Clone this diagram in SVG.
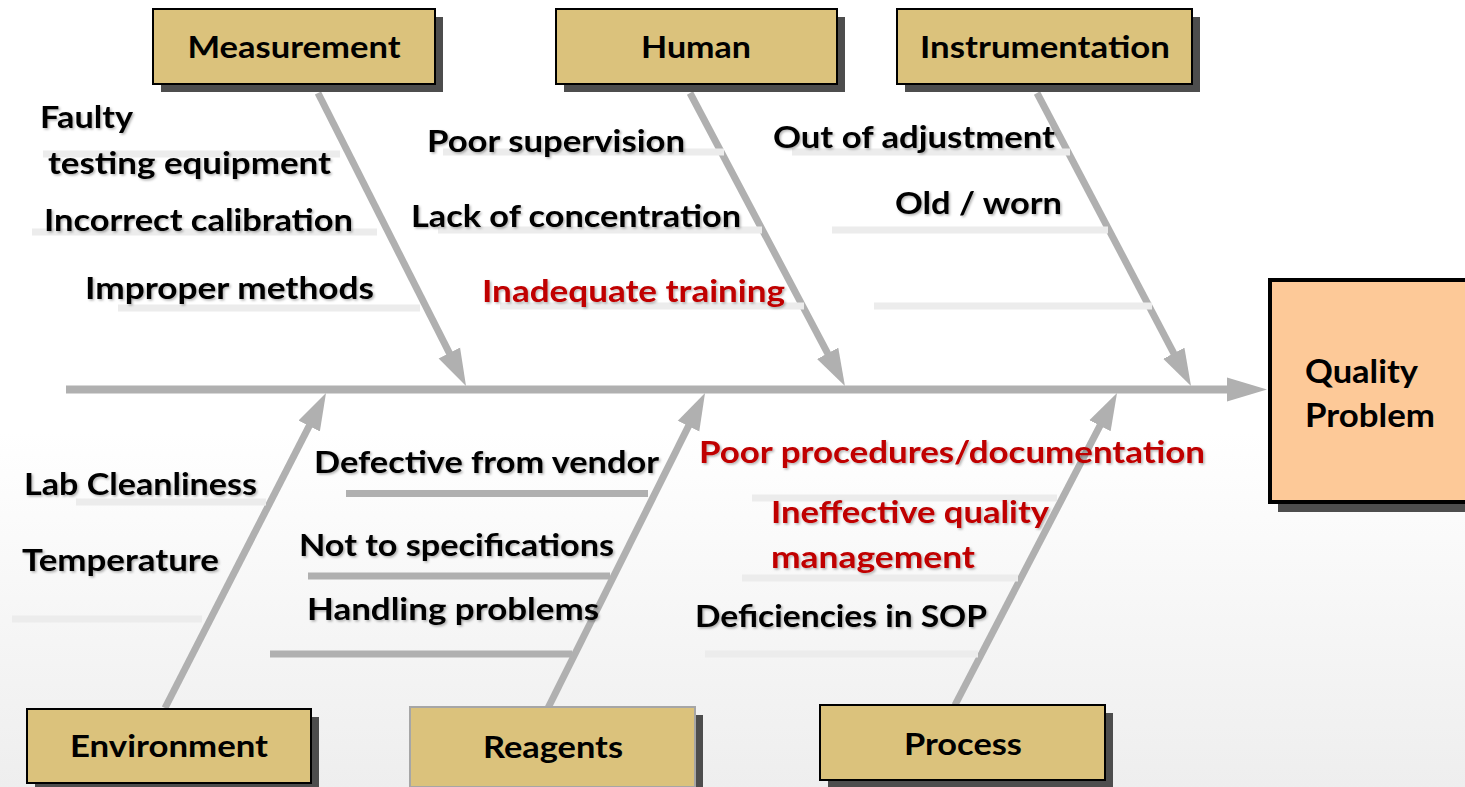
<svg xmlns="http://www.w3.org/2000/svg" width="1465" height="787" viewBox="0 0 1465 787">
<defs>
<linearGradient id="bg" x1="0" y1="0" x2="0" y2="1">
<stop offset="0" stop-color="#ffffff"/>
<stop offset="0.55" stop-color="#ffffff"/>
<stop offset="1" stop-color="#eeeeee"/>
</linearGradient>
<filter id="ts" x="-5%" y="-20%" width="110%" height="150%">
<feDropShadow dx="1.5" dy="1.5" stdDeviation="1" flood-color="#000" flood-opacity="0.3"/>
</filter>
<marker id="ah" markerUnits="userSpaceOnUse" markerWidth="40" markerHeight="26" viewBox="0 -13 40 26" refX="17" refY="0" orient="auto">
<path d="M0,-12 L37,0 L0,12 Z" fill="#b0b0b0"/>
</marker>
<marker id="ahs" markerUnits="userSpaceOnUse" markerWidth="42" markerHeight="26" viewBox="0 -13 42 26" refX="20" refY="0" orient="auto">
<path d="M0,-12 L40,0 L0,12 Z" fill="#b0b0b0"/>
</marker>
</defs>
<style>
.cat rect.f{fill:#dbc27c;stroke:#000;stroke-width:2}
.cat rect.s{fill:#4d4d4d}
.cat text{font-family:Lato,"Open Sans","Liberation Sans",sans-serif;font-weight:bold;font-size:31px;fill:#000;text-anchor:middle}
.lbl{font-family:Lato,"Open Sans","Liberation Sans",sans-serif;font-weight:bold;font-size:31px;fill:#000;filter:url(#ts)}
.red{fill:#c00000}
.qp{font-family:Lato,"Open Sans","Liberation Sans",sans-serif;font-weight:bold;font-size:33px;fill:#000}
.sub{stroke:#ececec;stroke-width:7;fill:none}
.subd{stroke:#b0b0b0;stroke-width:7;fill:none}
.bone{stroke:#b0b0b0;stroke-width:7;fill:none;marker-end:url(#ah)}
.spine{stroke:#b0b0b0;stroke-width:8;fill:none;marker-end:url(#ahs)}
</style>
<rect x="0" y="0" width="1465" height="787" fill="url(#bg)"/>

<g id="connectors">
<line class="spine" x1="66" y1="389.5" x2="1247" y2="389.5"/>
<line class="bone" x1="318" y1="93" x2="457" y2="368.2"/>
<line class="bone" x1="690" y1="93" x2="835.6" y2="368.3"/>
<line class="bone" x1="1037" y1="93" x2="1181.7" y2="368.3"/>
<line class="bone" x1="165" y1="708" x2="316.9" y2="410.8"/>
<line class="bone" x1="548" y1="708" x2="696.1" y2="410.9"/>
<line class="bone" x1="955" y1="705" x2="1107.8" y2="410.7"/>
<line class="sub" x1="43" y1="154" x2="340" y2="154"/>
<line class="sub" x1="32" y1="232" x2="377" y2="232"/>
<line class="sub" x1="118" y1="308" x2="420" y2="308"/>
<line class="sub" x1="443" y1="152" x2="724" y2="152"/>
<line class="sub" x1="438" y1="230" x2="762" y2="230"/>
<line class="sub" x1="500" y1="306" x2="804" y2="306"/>
<line class="sub" x1="792" y1="152" x2="1070" y2="152"/>
<line class="sub" x1="832" y1="230" x2="1108" y2="230"/>
<line class="sub" x1="874" y1="306" x2="1152" y2="306"/>
<line class="sub" x1="76" y1="502" x2="266" y2="502"/>
<line class="sub" x1="12" y1="619" x2="202" y2="619"/>
<line class="subd" x1="346" y1="493.5" x2="648" y2="493.5"/>
<line class="subd" x1="308" y1="576" x2="610" y2="576"/>
<line class="subd" x1="270" y1="654" x2="572" y2="654"/>
<line class="sub" x1="752" y1="498" x2="1057" y2="498"/>
<line class="sub" x1="742" y1="578" x2="1018" y2="578"/>
<line class="sub" x1="705" y1="654" x2="978" y2="654"/>
</g>

<g id="measurement" class="cat">
<rect class="s" x="161" y="17" width="282" height="75"/>
<rect class="f" x="153" y="9" width="282" height="75"/>
<text x="294" y="58" textLength="213" lengthAdjust="spacingAndGlyphs">Measurement</text>
</g>
<g id="human" class="cat">
<rect class="s" x="564" y="17" width="281" height="75"/>
<rect class="f" x="556" y="9" width="281" height="75"/>
<text x="696" y="58" textLength="110" lengthAdjust="spacingAndGlyphs">Human</text>
</g>
<g id="instrumentation" class="cat">
<rect class="s" x="905" y="17" width="295" height="75"/>
<rect class="f" x="897" y="9" width="295" height="75"/>
<text x="1045" y="58" textLength="250" lengthAdjust="spacingAndGlyphs">Instrumentation</text>
</g>
<g id="environment" class="cat">
<rect class="s" x="35" y="717" width="284" height="74"/>
<rect class="f" x="27" y="709" width="284" height="74"/>
<text x="169" y="757" textLength="198" lengthAdjust="spacingAndGlyphs">Environment</text>
</g>
<g id="reagents" class="cat">
<rect class="s" x="418" y="715" width="285" height="80"/>
<rect class="f" x="410" y="707" width="285" height="80" style="stroke:#a6a6a6"/>
<text x="553" y="758" textLength="140" lengthAdjust="spacingAndGlyphs">Reagents</text>
</g>
<g id="process" class="cat">
<rect class="s" x="828" y="713" width="285" height="75"/>
<rect class="f" x="820" y="705" width="285" height="75"/>
<text x="963" y="755" textLength="118" lengthAdjust="spacingAndGlyphs">Process</text>
</g>
<g id="quality-problem">
<rect x="1278" y="290" width="200" height="222" fill="#4d4d4d"/>
<rect x="1270" y="280" width="200" height="222" fill="#fdc998" stroke="#000" stroke-width="4"/>
<text class="qp" x="1305" y="383" textLength="113" lengthAdjust="spacingAndGlyphs">Quality</text>
<text class="qp" x="1305" y="427" textLength="130" lengthAdjust="spacingAndGlyphs">Problem</text>
</g>

<g id="causes-measurement">
<text class="lbl" x="40" y="128" textLength="93" lengthAdjust="spacingAndGlyphs">Faulty</text>
<text class="lbl" x="48" y="174" textLength="283" lengthAdjust="spacingAndGlyphs">testing equipment</text>
<text class="lbl" x="44" y="231" textLength="309" lengthAdjust="spacingAndGlyphs">Incorrect calibration</text>
<text class="lbl" x="85" y="299" textLength="289" lengthAdjust="spacingAndGlyphs">Improper methods</text>
</g>
<g id="causes-human">
<text class="lbl" x="427" y="152" textLength="258" lengthAdjust="spacingAndGlyphs">Poor supervision</text>
<text class="lbl" x="411" y="227" textLength="330" lengthAdjust="spacingAndGlyphs">Lack of concentration</text>
<text class="lbl red" x="482" y="302" textLength="303" lengthAdjust="spacingAndGlyphs">Inadequate training</text>
</g>
<g id="causes-instrumentation">
<text class="lbl" x="773" y="148" textLength="282" lengthAdjust="spacingAndGlyphs">Out of adjustment</text>
<text class="lbl" x="895" y="214" textLength="167" lengthAdjust="spacingAndGlyphs">Old / worn</text>
</g>
<g id="causes-environment">
<text class="lbl" x="24" y="495" textLength="233" lengthAdjust="spacingAndGlyphs">Lab Cleanliness</text>
<text class="lbl" x="22" y="571" textLength="197" lengthAdjust="spacingAndGlyphs">Temperature</text>
</g>
<g id="causes-reagents">
<text class="lbl" x="314" y="473" textLength="345" lengthAdjust="spacingAndGlyphs">Defective from vendor</text>
<text class="lbl" x="299" y="556" textLength="315" lengthAdjust="spacingAndGlyphs">Not to specifications</text>
<text class="lbl" x="307" y="620" textLength="292" lengthAdjust="spacingAndGlyphs">Handling problems</text>
</g>
<g id="causes-process">
<text class="lbl red" x="699" y="463" textLength="506" lengthAdjust="spacingAndGlyphs">Poor procedures/documentation</text>
<text class="lbl red" x="771" y="523" textLength="278" lengthAdjust="spacingAndGlyphs">Ineffective quality</text>
<text class="lbl red" x="771" y="568" textLength="204" lengthAdjust="spacingAndGlyphs">management</text>
<text class="lbl" x="695" y="627" textLength="292" lengthAdjust="spacingAndGlyphs">Deficiencies in SOP</text>
</g>
</svg>
